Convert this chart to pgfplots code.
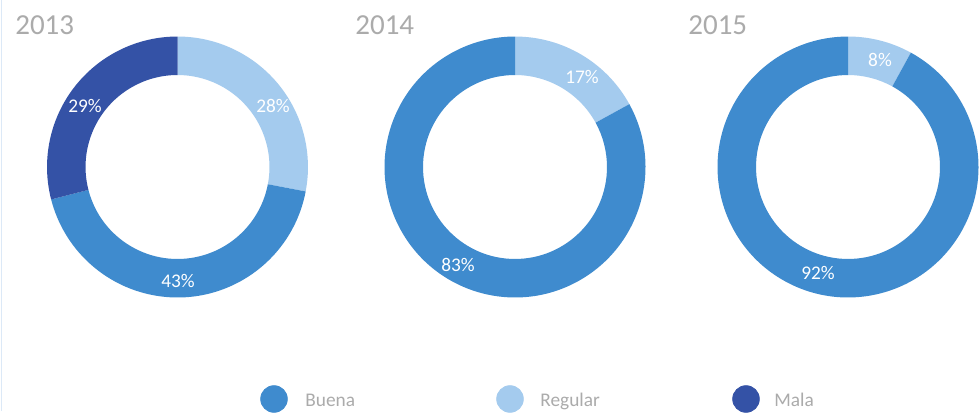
\documentclass[border=0pt]{standalone}
\usepackage{fontspec}
\setmainfont{Carlito}
\usepackage{pgfplots}
\pgfplotsset{compat=1.18}

\definecolor{buena}{HTML}{3F8BCE}
\definecolor{regular}{HTML}{A4CBEE}
\definecolor{mala}{HTML}{3452A6}
\definecolor{txtgray}{HTML}{ABABAB}
\definecolor{edge}{HTML}{DCE9F7}

% outer and inner radius of the rings (1 px = 0.02cm)
\def\Rout{2.61cm}
\def\Rin{1.84cm}
\def\Rdiff{0.77cm}

% ring segment: center x, center y, from (%), to (%), colour
\newcommand{\slice}[5]{%
  \fill[#5] (axis cs:#1,#2) ++({90-3.6*(#3)}:\Rout)
    arc[start angle={90-3.6*(#3)}, end angle={90-3.6*(#4)}, radius=\Rout]
    -- ++({270-3.6*(#4)}:\Rdiff)
    arc[start angle={90-3.6*(#4)}, end angle={90-3.6*(#3)}, radius=\Rin]
    -- cycle;
}

\begin{document}
\begin{tikzpicture}
\begin{axis}[
  x=0.02cm, y=0.02cm,
  xmin=0, xmax=979, ymin=0, ymax=411,
  hide axis,
  clip=true,
  font=\fontsize{11}{11}\selectfont,
]
\path[fill=white] (axis cs:0,0) rectangle (axis cs:979,411);
\draw[edge, line width=0.03cm] (axis cs:1.5,0) -- (axis cs:1.5,411);

% 2013: Regular 28, Buena 43, Mala 29
\slice{177.5}{244}{0}{28}{regular}
\slice{177.5}{244}{28}{71}{buena}
\slice{177.5}{244}{71}{100}{mala}
% 2014: Regular 17, Buena 83
\slice{515}{244}{0}{17}{regular}
\slice{515}{244}{17}{100}{buena}
% 2015: Regular 8, Buena 92
\slice{848}{244}{0}{8}{regular}
\slice{848}{244}{8}{100}{buena}

% year titles
\node[anchor=base west, text=txtgray, font=\fontsize{16.5}{16.5}\selectfont, inner sep=0pt] at (axis cs:15,376) {2013};
\node[anchor=base west, text=txtgray, font=\fontsize{16.5}{16.5}\selectfont, inner sep=0pt] at (axis cs:355,376) {2014};
\node[anchor=base west, text=txtgray, font=\fontsize{16.5}{16.5}\selectfont, inner sep=0pt] at (axis cs:688,376) {2015};

% percentage labels
\node[text=white] at (axis cs:85,305) {29\%};
\node[text=white] at (axis cs:273,305) {28\%};
\node[text=white] at (axis cs:178,130) {43\%};
\node[text=white] at (axis cs:582,334) {17\%};
\node[text=white] at (axis cs:458,146) {83\%};
\node[text=white] at (axis cs:880,351) {8\%};
\node[text=white] at (axis cs:818,138) {92\%};

% legend
\addplot[only marks, mark=*, mark size=7.6pt, buena] coordinates {(274,12)};
\addplot[only marks, mark=*, mark size=7.6pt, regular] coordinates {(510,12)};
\addplot[only marks, mark=*, mark size=7.6pt, mala] coordinates {(746,12)};
\node[anchor=base west, text=txtgray, inner sep=0pt] at (axis cs:305,4.5) {Buena};
\node[anchor=base west, text=txtgray, inner sep=0pt] at (axis cs:540,4.5) {Regular};
\node[anchor=base west, text=txtgray, inner sep=0pt] at (axis cs:774,4.5) {Mala};
\end{axis}
\end{tikzpicture}
\end{document}
